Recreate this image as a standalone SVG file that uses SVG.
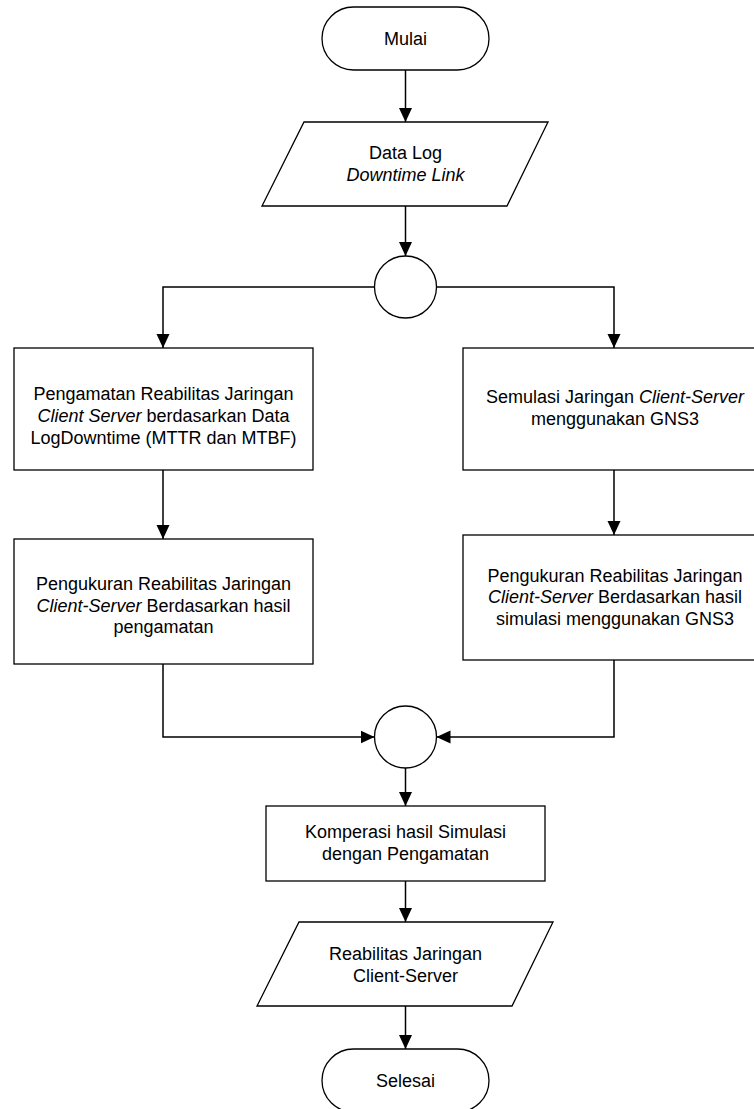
<svg xmlns="http://www.w3.org/2000/svg" width="754" height="1109" viewBox="0 0 754 1109">
<style>
.s{fill:#fff;stroke:#000;stroke-width:1.3}
.t{font-family:"Liberation Sans",Arial,sans-serif;font-size:18px;fill:#000;text-anchor:middle}
.i{font-style:italic}
.c{fill:none;stroke:#000;stroke-width:1.5;marker-end:url(#ah)}
</style>
<defs>
<marker id="ah" viewBox="0 0 14 14" refX="14" refY="7" markerWidth="14" markerHeight="14" markerUnits="userSpaceOnUse" orient="auto">
<path d="M0,0.5 L14,7 L0,13.5 z" fill="#000"/>
</marker>
</defs>
<rect width="754" height="1109" fill="#fff"/>
<g id="connectors">
<path class="c" d="M405.5,70 V122"/>
<path class="c" d="M405.5,206 V256"/>
<path class="c" d="M374.5,287 H163 V348"/>
<path class="c" d="M436.5,287 H614 V348"/>
<path class="c" d="M163,470 V539"/>
<path class="c" d="M614,470 V535"/>
<path class="c" d="M163,664 V737 H374.5"/>
<path class="c" d="M614,660 V737 H436.5"/>
<path class="c" d="M405.5,768 V806"/>
<path class="c" d="M405.5,881 V922"/>
<path class="c" d="M405.5,1006 V1049"/>
</g>
<g id="mulai">
<rect class="s" x="322" y="7" width="167" height="63" rx="31.5" ry="31.5"/>
<text class="t" x="405.5" y="45">Mulai</text>
</g>
<g id="datalog">
<polygon class="s" points="304,122 548,122 507,206 262,206"/>
<text class="t" x="405.5" y="159">Data Log</text>
<text class="t i" x="405.5" y="181">Downtime Link</text>
</g>
<g id="split">
<circle class="s" cx="405.5" cy="287" r="31"/>
</g>
<g id="pengamatan">
<rect class="s" x="14" y="348" width="299" height="122"/>
<text class="t" x="163.5" y="400">Pengamatan Reabilitas Jaringan</text>
<text class="t" x="163.5" y="422"><tspan class="i">Client Server</tspan> berdasarkan Data</text>
<text class="t" x="163.5" y="444">LogDowntime (MTTR dan MTBF)</text>
</g>
<g id="semulasi">
<rect class="s" x="463" y="348" width="302" height="122"/>
<text class="t" x="615" y="403">Semulasi Jaringan <tspan class="i">Client-Server</tspan></text>
<text class="t" x="615" y="425">menggunakan GNS3</text>
</g>
<g id="pengukuran-kiri">
<rect class="s" x="14" y="539" width="299" height="125"/>
<text class="t" x="163.5" y="590">Pengukuran Reabilitas Jaringan</text>
<text class="t" x="163.5" y="612"><tspan class="i">Client-Server</tspan> Berdasarkan hasil</text>
<text class="t" x="163.5" y="633">pengamatan</text>
</g>
<g id="pengukuran-kanan">
<rect class="s" x="463" y="535" width="302" height="125"/>
<text class="t" x="615" y="582">Pengukuran Reabilitas Jaringan</text>
<text class="t" x="615" y="603"><tspan class="i">Client-Server</tspan> Berdasarkan hasil</text>
<text class="t" x="615" y="625">simulasi menggunakan GNS3</text>
</g>
<g id="merge">
<circle class="s" cx="405.5" cy="737" r="31"/>
</g>
<g id="komperasi">
<rect class="s" x="266" y="806" width="279" height="75"/>
<text class="t" x="405.5" y="838">Komperasi hasil Simulasi</text>
<text class="t" x="405.5" y="860">dengan Pengamatan</text>
</g>
<g id="reabilitas">
<polygon class="s" points="299,922 553,922 512,1006 257,1006"/>
<text class="t" x="405.5" y="960">Reabilitas Jaringan</text>
<text class="t" x="405.5" y="982">Client-Server</text>
</g>
<g id="selesai">
<rect class="s" x="322" y="1049" width="167" height="63" rx="31.5" ry="31.5"/>
<text class="t" x="405.5" y="1087">Selesai</text>
</g>
</svg>
